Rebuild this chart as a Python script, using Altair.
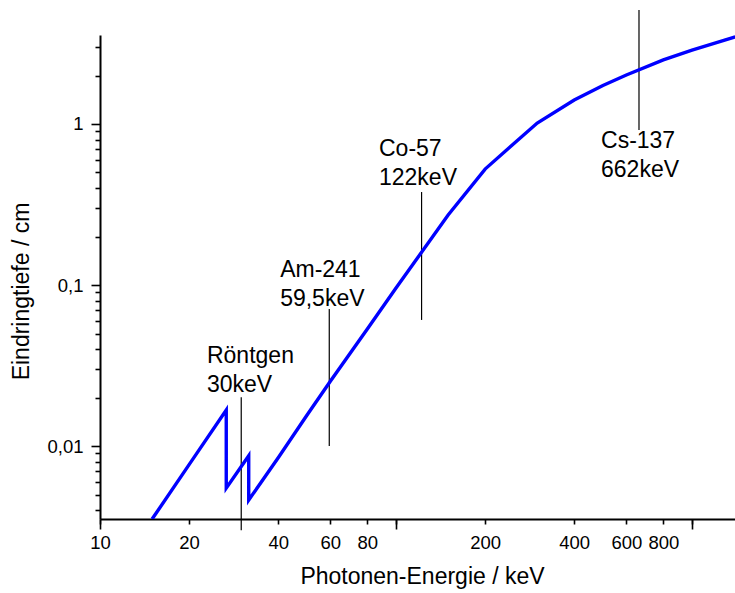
import altair as alt
import pandas as pd

# Penetration depth curve
energy = [15, 20, 26.7, 26.7, 31.8, 31.8, 40, 50, 60, 80, 100, 150, 200, 300,
          400, 500, 600, 800, 1000, 1400]
depth = [0.00352, 0.00767, 0.01674, 0.00548, 0.00871, 0.00462, 0.00847, 0.01553,
         0.02527, 0.0534, 0.0958, 0.272, 0.525, 1.014, 1.41, 1.735, 2.015, 2.50,
         2.88, 3.47]

# Marker lines for the radiation sources
marker_energy = [30, 59.5, 122, 662]
marker_low = [0.0030, 0.0100, 0.0607, 0.918]
marker_high = [0.0201, 0.071, 0.378, 5.11]

# Annotation texts and their anchor points (data space)
label_text = ["Röntgen\n30keV", "Am-241\n59,5keV", "Co-57\n122keV", "Cs-137\n662keV"]
label_energy = [22.98, 40.6, 87.6, 492.7]
label_depth = [0.03277, 0.1121, 0.6327, 0.7094]

# Axis ticks
x_ticks_minor = [10, 20, 40, 60, 80, 100, 200, 400, 600, 800, 1000]
x_ticks_major = [10, 100, 1000]
y_ticks_major = [0.01, 0.1, 1]
y_ticks_minor = [0.004, 0.005, 0.006, 0.007, 0.008, 0.009,
                 0.02, 0.03, 0.04, 0.05, 0.06, 0.07, 0.08, 0.09,
                 0.2, 0.3, 0.4, 0.5, 0.6, 0.7, 0.8, 0.9, 2, 3]

x_domain = [10, 1397]
y_domain = [0.003524, 3.57]

FONT = "Liberation Sans"

curve_df = pd.DataFrame({"i": list(range(len(energy))), "E": energy, "d": depth})
marker_df = pd.DataFrame({"E": marker_energy, "lo": marker_low, "hi": marker_high})
label_df = pd.DataFrame({"t": label_text, "lx": label_energy, "ly": label_depth})

xscale = alt.Scale(type="log", domain=x_domain, nice=False)
yscale = alt.Scale(type="log", domain=y_domain, nice=False)

x_axis_minor = alt.Axis(
    orient="bottom", values=x_ticks_minor, tickSize=5, tickWidth=1.6,
    domainWidth=2, labelFontSize=18.5, labelPadding=9,
    labelExpr="datum.value == 100 || datum.value == 1000 ? '' : format(datum.value, 'd')",
    title="Photonen-Energie / keV", titleFontSize=23, titleFontWeight="normal",
    titleBaseline="alphabetic", titleX=322, titleY=64, titleAlign="center",
    labelFlush=False, labelOverlap=False,
)
x_axis_major = alt.Axis(
    orient="bottom", values=x_ticks_major, tickSize=10, tickWidth=1.6,
    domain=False, labels=False, title="",
)
y_axis_minor = alt.Axis(
    orient="left", values=y_ticks_minor, tickSize=5, tickWidth=1.6,
    domainWidth=2, labels=False,
    title="Eindringtiefe / cm", titleFontSize=23, titleFontWeight="normal",
    titleBaseline="alphabetic", titleAngle=270, titleX=-72, titleY=256,
    titleAlign="center",
)
y_axis_major = alt.Axis(
    orient="left", values=y_ticks_major, tickSize=9, tickWidth=1.6,
    domain=False, labelFontSize=18.5, labelPadding=8,
    labelExpr="replace(format(datum.value, '~g'), '.', ',')",
    title="", labelOverlap=False, labelFlush=False,
)

rules = alt.Chart(marker_df).mark_rule(color="black", strokeWidth=1.2).encode(
    x=alt.X("E:Q", scale=xscale, axis=x_axis_major),
    y=alt.Y("lo:Q", scale=yscale, axis=y_axis_major),
    y2="hi:Q",
)

line = alt.Chart(curve_df).mark_line(color="#0000ff", strokeWidth=3.4, clip=True).encode(
    x=alt.X("E:Q", scale=xscale, axis=x_axis_minor),
    y=alt.Y("d:Q", scale=yscale, axis=y_axis_minor),
    order=alt.Order("i:Q"),
)

labels = alt.Chart(label_df).mark_text(
    align="left", baseline="alphabetic", font=FONT, fontSize=23,
    lineBreak="\n", lineHeight=29, color="black",
).encode(
    x=alt.X("lx:Q", scale=xscale, axis=None),
    y=alt.Y("ly:Q", scale=yscale, axis=None),
    text="t:N",
)

chart = (
    alt.layer(rules, line, labels)
    .resolve_scale(x="shared", y="shared")
    .resolve_axis(x="independent", y="independent")
    .properties(
        width=635, height=484,
        autosize=alt.AutoSizeParams(type="none"),
        padding={"left": 100, "top": 35, "right": 0, "bottom": 74},
        background="white",
    )
    .configure_axis(
        grid=False, domainColor="black", tickColor="black",
        labelColor="black", titleColor="black",
        labelFont=FONT, titleFont=FONT,
    )
    .configure_view(strokeWidth=0)
)

chart.save("out.html", embed_options={"renderer": "svg", "actions": False})
